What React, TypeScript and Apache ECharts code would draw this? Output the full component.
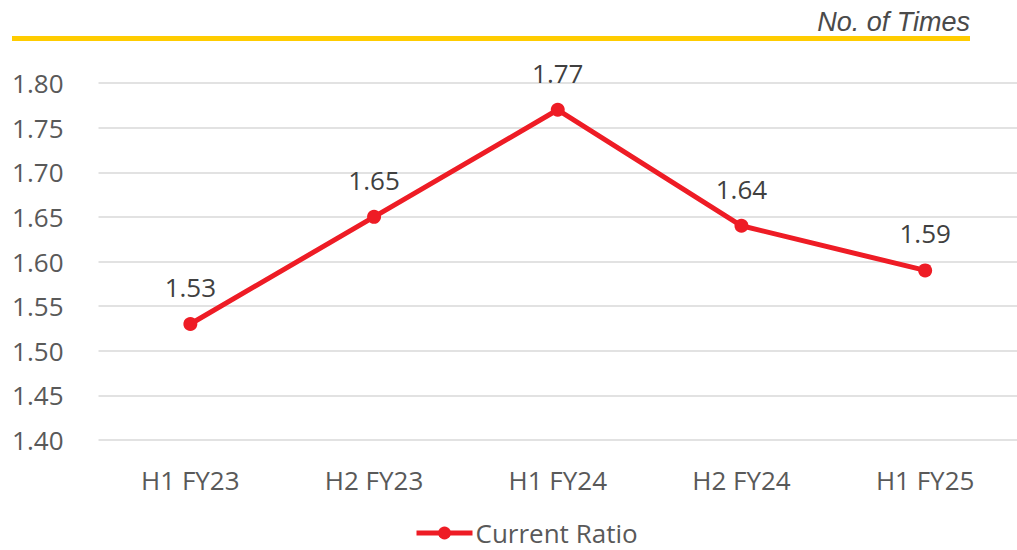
import React, { useEffect, useRef } from "react";
import * as echarts from "echarts";

const categories = ["H1 FY23", "H2 FY23", "H1 FY24", "H2 FY24", "H1 FY25"];
const currentRatio = [1.53, 1.65, 1.77, 1.64, 1.59];
const seriesName = "Current Ratio";
const unitTitle = "No. of Times";

export default function App() {
  const ref = useRef<HTMLDivElement>(null);
  useEffect(() => {
    if (!ref.current) return;
    const chart = echarts.init(ref.current, null, { renderer: "svg" });
    const font = "'Open Sans', sans-serif";
    chart.setOption({
      animation: false,
      backgroundColor: "#ffffff",
      graphic: [
        {
          type: "rect",
          shape: { x: 12, y: 36, width: 958, height: 5 },
          style: { fill: "#FFCC00" },
        },
        {
          type: "text",
          x: 970,
          y: 22,
          style: {
            text: unitTitle,
            fontFamily: "'Liberation Sans', Arial, sans-serif",
            fontStyle: "italic",
            fontSize: 27,
            fill: "#4a4a4a",
            align: "right",
            verticalAlign: "middle",
          },
        },
      ],
      grid: { left: 98.5, top: 83, width: 925, height: 357, containLabel: false },
      xAxis: {
        type: "category",
        data: categories,
        boundaryGap: true,
        axisLine: { show: false },
        axisTick: { show: false },
        axisLabel: { color: "#595959", fontSize: 26, fontFamily: font, margin: 27 },
      },
      yAxis: {
        type: "value",
        min: 1.4,
        max: 1.8,
        interval: 0.05,
        axisLine: { show: false },
        axisTick: { show: false },
        axisLabel: {
          color: "#595959",
          fontSize: 26,
          fontFamily: font,
          margin: 35,
          formatter: (v: number) => v.toFixed(2),
        },
        splitLine: { lineStyle: { color: "#d9d9d9", width: 1.5 } },
      },
      legend: {
        top: 520,
        left: 414,
        padding: 0,
        data: [seriesName],
        itemWidth: 56,
        itemHeight: 16,
        itemGap: 10,
        lineStyle: { width: 5 },
        textStyle: {
          color: "#595959",
          fontSize: 26,
          lineHeight: 24,
          fontFamily: font,
          padding: [0, 0, 0, -2],
        },
      },
      series: [
        {
          name: seriesName,
          type: "line",
          data: currentRatio,
          symbol: "circle",
          symbolSize: 14,
          itemStyle: { color: "#EE1C25" },
          lineStyle: { color: "#EE1C25", width: 5 },
          label: {
            show: true,
            position: "top",
            distance: 17,
            color: "#404040",
            fontSize: 26,
            fontFamily: font,
            formatter: (p: any) => p.value.toFixed(2),
          },
        },
      ],
    });
    return () => chart.dispose();
  }, []);
  return <div ref={ref} style={{ width: 1017, height: 550, position: "absolute", left: 0, top: 0 }} />;
}
